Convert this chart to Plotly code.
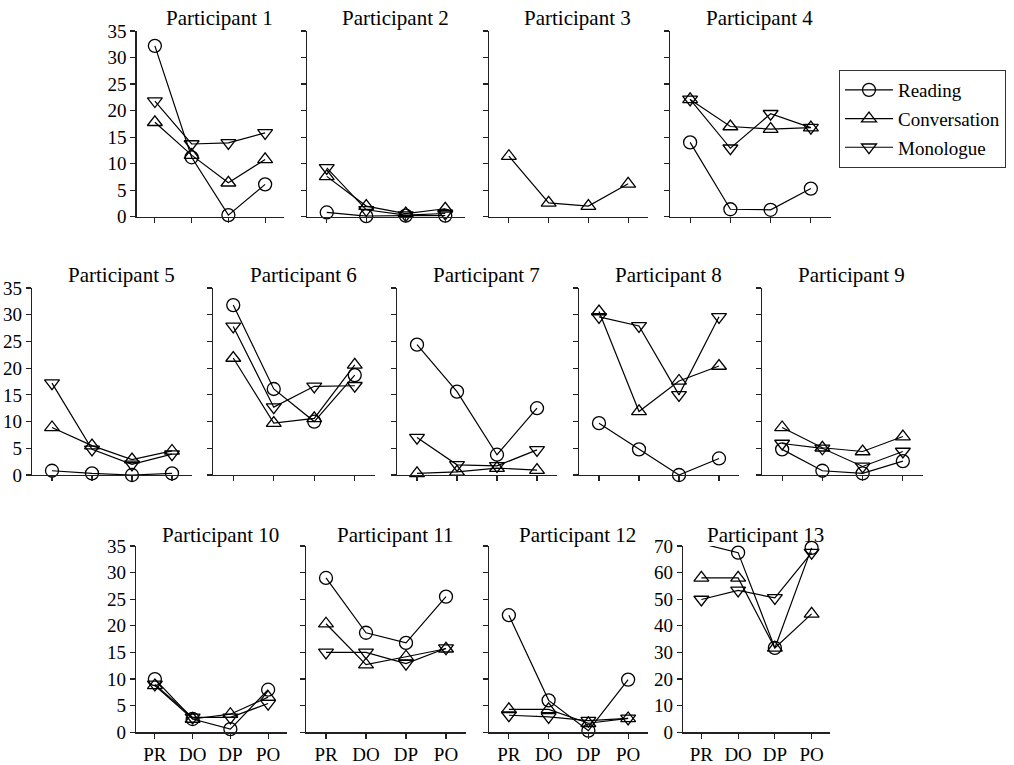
import plotly.graph_objects as go

W, H = 1014, 765

phases = ["PR", "DO", "DP", "PO"]
participants = ["Participant %d" % i for i in range(1, 14)]

reading = [
    [32.2, 11.2, 0.3, 6.1],
    [0.8, 0.1, 0.2, 0.2],
    [None, None, None, None],
    [14.0, 1.4, 1.3, 5.3],
    [0.8, 0.3, 0.0, 0.3],
    [31.8, 16.1, 10.0, 18.7],
    [24.4, 15.6, 3.8, 12.5],
    [9.7, 4.8, 0.0, 3.1],
    [4.8, 0.8, 0.3, 2.6],
    [10.0, 2.5, 0.6, 8.0],
    [29.0, 18.7, 16.8, 25.5],
    [22.0, 6.0, 0.3, 9.9],
    [70.9, 67.5, 31.7, 69.3],
]
conversation = [
    [17.8, 11.6, 6.4, 10.8],
    [7.6, 2.0, 0.6, 1.5],
    [11.4, 2.6, 2.0, 6.2],
    [22.1, 17.0, 16.5, 16.8],
    [8.9, 5.5, 2.9, 4.5],
    [21.9, 9.7, 10.6, 20.6],
    [0.3, 0.6, 1.3, 0.9],
    [30.6, 11.9, 17.6, 20.4],
    [8.9, 5.1, 4.4, 7.2],
    [8.8, 2.5, 3.4, 6.6],
    [20.4, 12.7, 14.2, 15.7],
    [4.3, 4.3, 1.7, 2.6],
    [58.0, 58.0, 31.7, 44.5],
]
monologue = [
    [21.8, 13.7, 13.9, 15.8],
    [9.2, 1.3, 0.3, 0.6],
    [None, None, None, None],
    [22.1, 12.9, 19.4, 16.8],
    [17.2, 4.8, 2.0, 3.9],
    [27.8, 12.7, 16.6, 16.7],
    [7.0, 1.9, 1.7, 4.7],
    [29.6, 27.9, 15.0, 29.6],
    [5.9, 5.0, 1.6, 4.4],
    [9.0, 2.8, 2.8, 5.4],
    [15.0, 15.0, 12.9, 15.8],
    [3.2, 2.9, 2.2, 2.6],
    [49.9, 53.3, 50.5, 67.5],
]

series_names = ["Reading", "Conversation", "Monologue"]
series_data = [reading, conversation, monologue]
series_symbols = ["circle-open", "triangle-up-open", "triangle-down-open"]
series_sizes = [13, 13, 13]

# panel pixel boxes: (x0, x1) and row (y_top, y_bottom)
rows_y = [(31, 216.7), (288, 475), (546, 732.3)]
panel_x = [
    (136.5, 283.5), (307, 465), (489, 648), (670, 831),
    (32, 192), (213, 375), (397, 557), (579, 739), (762, 923),
    (136, 287), (306, 466), (489, 648), (683, 830),
]
panel_row = [0, 0, 0, 0, 1, 1, 1, 1, 1, 2, 2, 2, 2]
labelled_y = {0, 4, 9, 12}
labelled_x = {9, 10, 11, 12}


def px(x):
    return x / W


def py(y):
    return 1 - y / H


FONT = "Liberation Serif, Times New Roman, serif"
AX = "#222222"

fig = go.Figure()
layout = dict(
    width=W, height=H,
    margin=dict(l=0, r=0, t=0, b=0, autoexpand=False),
    paper_bgcolor="white", plot_bgcolor="white",
    font=dict(family=FONT, color="black", size=19),
    showlegend=True,
    hovermode=False,
    legend=dict(
        x=px(839), y=py(70), xanchor="left", yanchor="top",
        bordercolor="#333333", borderwidth=1, bgcolor="white",
        font=dict(family=FONT, size=19, color="black"),
        tracegroupgap=1, itemwidth=48,
    ),
    annotations=[],
)

for i in range(13):
    n = i + 1
    xa = "xaxis" if n == 1 else "xaxis%d" % n
    ya = "yaxis" if n == 1 else "yaxis%d" % n
    xr = "x" if n == 1 else "x%d" % n
    yr = "y" if n == 1 else "y%d" % n
    x0, x1 = panel_x[i]
    yt, yb = rows_y[panel_row[i]]
    ymax = 70 if i == 12 else 35
    layout[xa] = dict(
        domain=[px(x0), px(x1)], anchor=yr, automargin=False,
        type="category", categoryorder="array", categoryarray=phases,
        range=[-0.5, 3.5], showline=True, linecolor=AX, linewidth=1.3,
        ticks="outside", ticklen=5, tickcolor=AX, tickwidth=1.2,
        showgrid=False, zeroline=False,
        showticklabels=(i in labelled_x),
        tickfont=dict(family=FONT, size=19, color="black"),
    )
    layout[ya] = dict(
        domain=[py(yb), py(yt)], anchor=xr, automargin=False,
        range=[0, ymax], dtick=10 if i == 12 else 5, tick0=0,
        showline=True, linecolor=AX, linewidth=1.3,
        ticks="outside", ticklen=5, tickcolor=AX, tickwidth=1.2,
        showgrid=False, zeroline=False,
        showticklabels=(i in labelled_y),
        tickfont=dict(family=FONT, size=19, color="black"),
    )
    for s in range(3):
        vals = series_data[s][i]
        if all(v is None for v in vals):
            continue
        fig.add_trace(go.Scatter(
            x=phases, y=vals, xaxis=xr, yaxis=yr,
            mode="lines+markers", name=series_names[s],
            legendgroup=series_names[s], showlegend=(i == 0),
            line=dict(color="black", width=1.2),
            marker=dict(symbol=series_symbols[s], size=series_sizes[s],
                        color="black", line=dict(width=1.3)),
            cliponaxis=False,
        ))
    title_y = [18, 275, 535][panel_row[i]]
    layout["annotations"].append(dict(
        text=participants[i], xref="paper", yref="paper",
        x=px((x0 + x1) / 2 + 9), y=py(title_y),
        xanchor="center", yanchor="middle", showarrow=False,
        font=dict(family=FONT, size=21, color="black"),
    ))

fig.update_layout(**layout)
fig.write_html(
    "out.html",
    config={"displayModeBar": False, "staticPlot": True},
    post_script="document.body.style.margin='0px';"
                "document.body.style.overflow='hidden';",
)
